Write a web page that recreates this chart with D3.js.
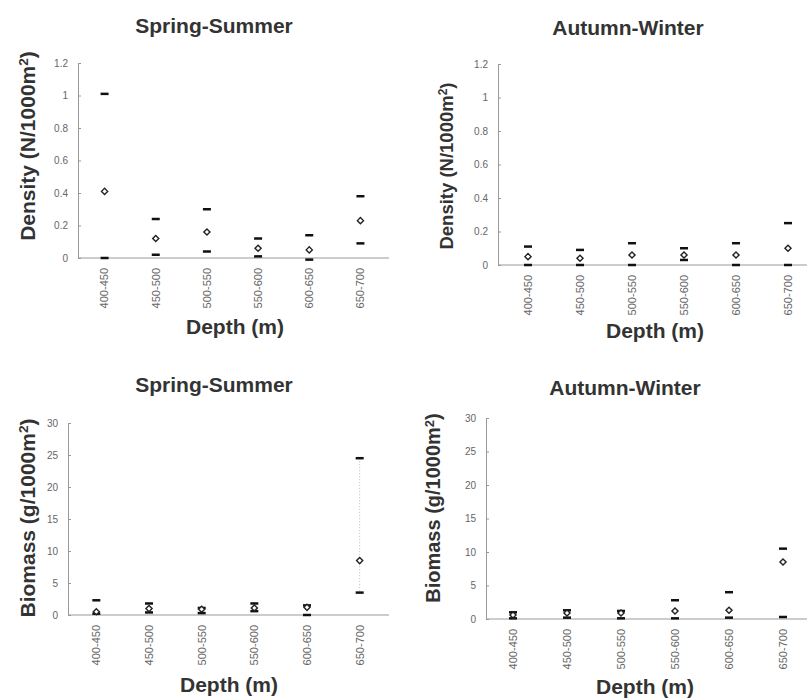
<!DOCTYPE html>
<html>
<head>
<meta charset="utf-8">
<script src="https://cdn.jsdelivr.net/npm/d3@7"></script>
<style>
  body { margin: 0; background: #fff; }
  svg { font-family: "Liberation Sans", Arial, sans-serif; }
  .tick text { fill: #666; }
  .domain, .tick line { stroke: #999; }
</style>
</head>
<body>
<div id="chart"></div>
<script>
// depth classes
var depths = ['400-450','450-500','500-550','550-600','600-650','650-700'];

// density, spring-summer
var ssDenMean = [0.41, 0.12, 0.16, 0.06, 0.05, 0.23];
var ssDenHigh = [1.01, 0.24, 0.30, 0.12, 0.14, 0.38];
var ssDenLow  = [0.00, 0.02, 0.04, 0.01, -0.01, 0.09];

// density, autumn-winter
var awDenMean = [0.05, 0.04, 0.06, 0.06, 0.06, 0.10];
var awDenHigh = [0.11, 0.09, 0.13, 0.10, 0.13, 0.25];
var awDenLow  = [0.00, 0.00, 0.00, 0.03, 0.00, 0.00];

// biomass, spring-summer
var ssBioMean = [0.5, 1.0, 0.9, 1.1, 1.2, 8.5];
var ssBioHigh = [2.3, 1.8, 1.1, 1.8, 1.5, 24.5];
var ssBioLow  = [0.2, 0.4, 0.3, 0.6, 0.0, 3.5];

// biomass, autumn-winter
var awBioMean = [0.6, 0.9, 0.9, 1.2, 1.3, 8.5];
var awBioHigh = [1.0, 1.3, 1.2, 2.8, 4.0, 10.5];
var awBioLow  = [0.1, 0.2, 0.1, 0.1, 0.2, 0.3];

var denTicks = [0, 0.2, 0.4, 0.6, 0.8, 1, 1.2];
var bioTicks = [0, 5, 10, 15, 20, 25, 30];

var svg = d3.select('#chart').append('svg')
    .attr('width', 807)
    .attr('height', 700);

function panel(opt){
    var x = d3.scaleBand().domain(depths).range([opt.left, opt.right]);
    var y = d3.scaleLinear().domain([0, opt.max]).range([opt.bottom, opt.top]);

    var g = svg.append('g');

    g.append('text')
        .attr('x', opt.titleX).attr('y', opt.titleY)
        .attr('text-anchor', 'middle')
        .style('font-weight', 'bold').style('font-size', '21px').style('fill', '#333')
        .text(opt.title);

    var ya = g.append('g')
        .attr('transform', 'translate(' + opt.axisX + ',0)')
        .call(d3.axisLeft(y).tickValues(opt.ticks).tickSize(3).tickSizeOuter(0).tickPadding(7)
            .tickFormat(function(d){ return String(d); }));
    ya.selectAll('.tick line').attr('x2', 3);
    ya.selectAll('.tick text').style('font-size', '10px');

    var xa = g.append('g')
        .attr('transform', 'translate(0,' + opt.bottom + ')')
        .call(d3.axisBottom(x).tickSize(0).tickSizeOuter(0).tickPadding(0));
    xa.select('.domain').attr('d', 'M' + opt.axisX + ',0H' + (opt.right + 3));
    xa.selectAll('.tick text')
        .attr('transform', 'rotate(-90)')
        .attr('text-anchor', 'end')
        .attr('x', -10).attr('y', 0).attr('dy', '0.35em')
        .style('font-size', '11px');

    // axis titles
    var yl = g.append('text')
        .attr('transform', 'translate(' + opt.ylabX + ',' + opt.ylabY + ') rotate(-90)')
        .attr('text-anchor', 'middle')
        .style('font-weight', 'bold').style('font-size', opt.ylabSize + 'px').style('fill', '#333');
    yl.append('tspan').text(opt.ylab);
    yl.append('tspan').attr('dy', '-0.5em').style('font-size', '0.65em').text('2');
    yl.append('tspan').attr('dy', '0.33em').text(')');

    g.append('text')
        .attr('x', opt.xlabX).attr('y', opt.xlabY)
        .attr('text-anchor', 'middle')
        .style('font-weight', 'bold').style('font-size', '21px').style('fill', '#333')
        .text('Depth (m)');

    var cx = function(i){ return x(depths[i]) + x.bandwidth() / 2; };

    // faint high-low line
    if (opt.hlLine) {
        var k = depths.indexOf(opt.hlLine);
        g.append('line')
            .attr('x1', cx(k)).attr('x2', cx(k))
            .attr('y1', y(opt.high[k])).attr('y2', y(opt.low[k]))
            .style('stroke', '#bbb').style('stroke-dasharray', '1,2');
    }

    [opt.high, opt.low].forEach(function(arr){
        g.selectAll(null).data(arr).enter()
            .append('line')
            .attr('x1', function(d, i){ return cx(i) - 4; })
            .attr('x2', function(d, i){ return cx(i) + 4; })
            .attr('y1', function(d){ return y(d); })
            .attr('y2', function(d){ return y(d); })
            .style('stroke', '#111').style('stroke-width', 2.5);
    });

    g.selectAll(null).data(opt.mean).enter()
        .append('path')
        .attr('d', d3.symbol().type(d3.symbolDiamond2).size(24))
        .attr('transform', function(d, i){ return 'translate(' + cx(i) + ',' + y(d) + ')'; })
        .style('fill', '#fff').style('stroke', '#222').style('stroke-width', 1.4);
}

panel({title:'Spring-Summer', titleX:214, titleY:33, axisX:78, left:79, right:386, top:63, bottom:258,
    max:1.2, ticks:denTicks, ylab:'Density (N/1000m', ylabX:35, ylabY:146, ylabSize:21,
    xlabX:235, xlabY:334,
    mean:ssDenMean, high:ssDenHigh, low:ssDenLow});
panel({title:'Autumn-Winter', titleX:628, titleY:35, axisX:498, left:502, right:814, top:64, bottom:265,
    max:1.2, ticks:denTicks, ylab:'Density (N/1000m', ylabX:453, ylabY:166, ylabSize:18.5,
    xlabX:655, xlabY:338,
    mean:awDenMean, high:awDenHigh, low:awDenLow});
panel({title:'Spring-Summer', titleX:214, titleY:392, axisX:68, left:70, right:386, top:423, bottom:615,
    max:30, ticks:bioTicks, ylab:'Biomass (g/1000m', ylabX:35, ylabY:518, ylabSize:21,
    xlabX:229, xlabY:692, hlLine:'650-700',
    mean:ssBioMean, high:ssBioHigh, low:ssBioLow});
panel({title:'Autumn-Winter', titleX:625, titleY:395, axisX:486, left:486, right:810, top:418, bottom:619,
    max:30, ticks:bioTicks, ylab:'Biomass (g/1000m', ylabX:440, ylabY:508, ylabSize:20,
    xlabX:645, xlabY:694,
    mean:awBioMean, high:awBioHigh, low:awBioLow});
</script>
</body>
</html>
